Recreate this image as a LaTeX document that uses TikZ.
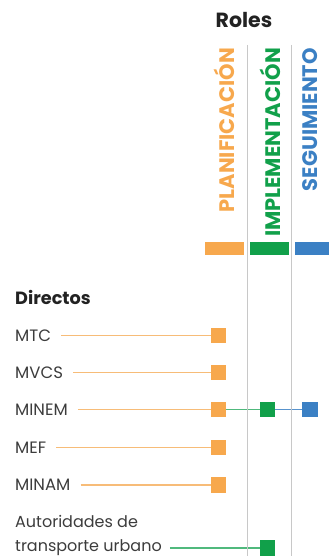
\documentclass[tikz,border=0pt]{standalone}
\usepackage{fontspec}
\setmainfont{Poppins}
\definecolor{orangeC}{RGB}{247,168,77}
\definecolor{orangeL}{RGB}{247,188,120}
\definecolor{greenC}{RGB}{17,160,74}
\definecolor{greenL}{RGB}{80,185,125}
\definecolor{blueC}{RGB}{59,128,196}
\definecolor{greyC}{RGB}{200,200,200}
\definecolor{txtC}{RGB}{60,60,60}
\definecolor{headC}{RGB}{34,34,34}
\tikzset{
  sq/.style={minimum size=15pt, inner sep=0pt},
  lbl/.style={anchor=west, inner sep=0pt, text=txtC, font=\fontsize{16.5}{24}\selectfont},
  head/.style={inner sep=0pt, text=headC, font=\bfseries\fontsize{18}{20}\selectfont},
  role/.style={rotate=90, anchor=east, inner sep=0pt, font=\bfseries\fontsize{21}{24}\selectfont},
  bar/.style={minimum width=39pt, minimum height=13pt, inner sep=0pt},
  conn/.style={line width=1.6pt, shorten <=10pt},
  divider/.style={draw=greyC, line width=1pt}
}
\begin{document}
\begin{tikzpicture}[x=1pt,y=-1pt]
\useasboundingbox (0,0) rectangle (329,556);
% headings
\node[head, font=\bfseries\fontsize{20.5}{22}\selectfont] (roles) at (244,20) {Roles};
\node[head, anchor=west, font=\bfseries\fontsize{17.7}{20}\selectfont] (dir) at (15,297) {Directos};
% role titles
\node[role, text=orangeC] (plan) at (224,48) {PLANIFICACIÓN};
\node[role, text=greenC] (impl) at (270,48) {IMPLEMENTACIÓN};
\node[role, text=blueC] (seg) at (310,48) {SEGUIMIENTO};
% bars
\node[bar, fill=orangeC] (barP) at (224.5,248.5) {};
\node[bar, fill=greenC] (barI) at (269.5,248.5) {};
\node[bar, fill=blueC, minimum width=34pt] (barS) at (312,248.5) {};
% dividers
\coordinate (d1t) at (247,45); \coordinate (d1b) at (247,556);
\coordinate (d2t) at (291.7,45); \coordinate (d2b) at (291.7,556);
% labels
\node[lbl] (mtc) at (15,335.5) {MTC};
\node[lbl] (mvcs) at (15,372.5) {MVCS};
\node[lbl] (minem) at (15,409.5) {MINEM};
\node[lbl] (mef) at (15,447.5) {MEF};
\node[lbl] (minam) at (15,485) {MINAM};
\node[lbl, align=left, font=\fontsize{16}{24}\selectfont] (aut) at (15,535.5) {Autoridades de\\transporte urbano};
% squares
\node[sq] (s1) at (218.5,335.5) {};
\node[sq] (s2) at (218.5,372.5) {};
\node[sq] (s3) at (218.5,409.5) {};
\node[sq] (s3g) at (267.5,409.5) {};
\node[sq] (s3b) at (310,409.5) {};
\node[sq] (s4) at (218.5,447.5) {};
\node[sq] (s5) at (218.5,485) {};
\node[sq] (s6) at (267.5,548) {};
% connectors
\draw[conn, orangeL] (mtc.east) -- (s1.west);
\draw[conn, orangeL] (mvcs.east) -- (s2.west);
\draw[conn, orangeL] (minem.east) -- (s3.west);
\draw[line width=1.6pt, greenL] (s3.east) -- (s3g.west);
\draw[line width=1.6pt, blueC!85] (s3g.east) -- (s3b.west);
\draw[conn, orangeL] (mef.east) -- (s4.west);
\draw[conn, orangeL] (minam.east) -- (s5.west);
\draw[line width=1.6pt, greenL] ([xshift=8pt]aut.south east |- s6) -- (s6.west);
\draw[divider] (d1t) -- (d1b);
\draw[divider] (d2t) -- (d2b);
% squares fill
\foreach \s in {s1,s2,s3,s4,s5} \fill[orangeC] (\s.south west) rectangle (\s.north east);
\foreach \s in {s3g,s6} \fill[greenC] (\s.south west) rectangle (\s.north east);
\fill[blueC] (s3b.south west) rectangle (s3b.north east);
\end{tikzpicture}
\end{document}
